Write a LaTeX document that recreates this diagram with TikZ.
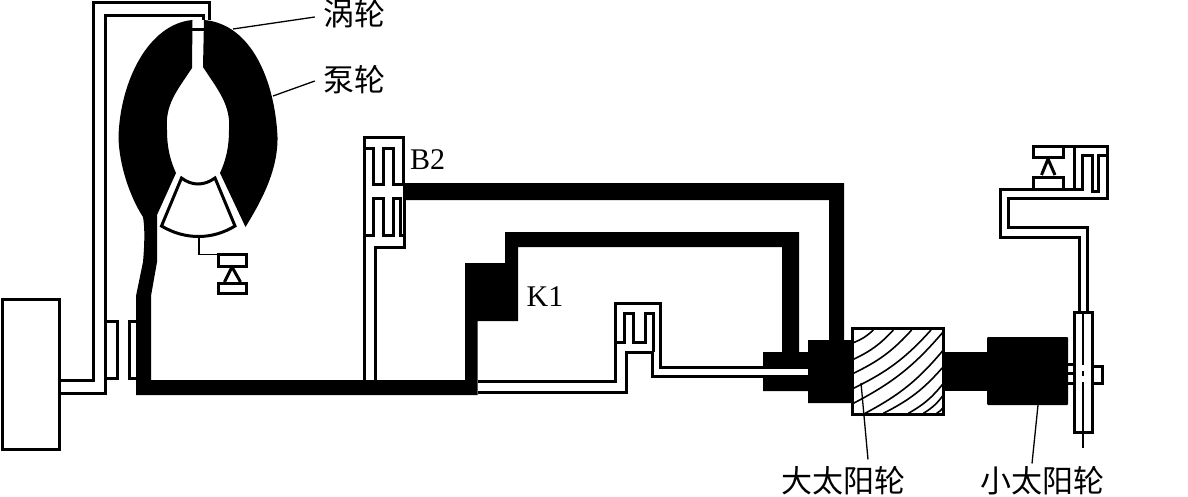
\documentclass[tikz,border=0pt]{standalone}
\usepackage{fontspec}
\setmainfont{Liberation Serif}
\newfontfamily\cjkfont{Noto Sans CJK SC}
\tikzset{
  pipe/.style={line width=3pt,line join=miter,draw=black},
  leader/.style={line width=1.3pt,draw=black},
  hatchline/.style={line width=1.6pt,draw=black},
  cnlabel/.style={inner sep=0pt,font=\cjkfont\fontsize{31}{31}\selectfont},
  latinlabel/.style={inner sep=0pt,font=\fontsize{30}{30}\selectfont},
}
\begin{document}
\begin{tikzpicture}[x=1pt,y=-1pt]
\useasboundingbox (0,0) rectangle (1188,496);
\fill[white] (0,0) rectangle (1188,496);
% torus halves and black shafts
\fill[black] (192.5,20) .. controls (148,24) and (120,82) .. (118.5,137)
  .. controls (119,165) and (130,197) .. (143,217)
  .. controls (145,228) and (144.5,245) .. (143,262)
  -- (136,296) -- (136,395) -- (477.5,395) -- (477.5,321) -- (518,321) -- (518,247)
  -- (782,247) -- (782,352) -- (763,352) -- (763,391) -- (808,391) -- (808,403) -- (852,403) -- (852,340)
  -- (844,340) -- (844,183) -- (403,183) -- (403,200) -- (829,200) -- (829,340) -- (808,340) -- (808,352)
  -- (799,352) -- (799,232) -- (505,232) -- (505,263) -- (465,263) -- (465,380) -- (151,380) -- (151,296)
  -- (157,262) -- (157,215) -- (176,173)
  .. controls (170,160) and (167,147) .. (167,130)
  .. controls (165,105) and (176,92) .. (192,68) -- cycle;
\fill[black] (204,20) .. controls (252,24) and (275,82) .. (277.5,137)
  .. controls (278,170) and (262,200) .. (245.5,227)
  -- (220,173) .. controls (226,160) and (229,147) .. (229,130)
  .. controls (231,105) and (218,90) .. (203,67) -- cycle;
% left pipes and box
\draw[pipe] (2,299) rectangle (59,449);
\draw[pipe] (60,380) -- (93.5,380) -- (93.5,2) -- (209,2) -- (209,20);
\draw[pipe] (60,393) -- (105.5,393) -- (105.5,15) -- (203,15) -- (203,20);
\draw[pipe] (192,29) -- (204,29);
\draw[pipe] (105.5,321.5) -- (117,321.5) -- (117,378) -- (105.5,378);
\draw[pipe] (137,321.5) -- (129.5,321.5) -- (129.5,378) -- (137,378);
% stator
\draw[pipe] (181.5,178) .. controls (192,186) and (204,186) .. (215,178) -- (235,226)
  .. controls (212,240) and (185,240) .. (161.5,226) -- cycle;
% brake 1
\draw[leader] (199,237) -- (199,254.5) -- (218,254.5);
\draw[pipe] (218.5,254.5) rectangle (246.5,266);
\draw[pipe] (218.5,283) rectangle (246.5,293.5);
\draw[pipe,line join=round] (224.5,282) -- (232,267) -- (240.5,282);
% B2 clutch
\draw[pipe] (364,380) -- (364,137.5) -- (403,137.5) -- (403,184);
\draw[pipe] (364,148.5) -- (373,148.5) -- (373,184) -- (383,184) -- (383,148.5) -- (393,148.5) -- (393,184) -- (403,184);
\draw[pipe] (364,235) -- (373,235) -- (373,198) -- (383,198) -- (383,235) -- (393,235) -- (393,198) -- (400,198) -- (400,235) -- (404.5,235);
\draw[pipe] (404.5,200) -- (404.5,247.5) -- (375,247.5) -- (375,380);
% mid clutch
\draw[pipe] (478,381) -- (615,381) -- (615,303.5) -- (660,303.5) -- (660,367) -- (765,367);
\draw[pipe] (478,392.5) -- (626,392.5) -- (626,352) -- (652,352) -- (652,376.5) -- (765,376.5);
\draw[pipe] (615,342) -- (624,342) -- (624,313) -- (633,313) -- (633,342) -- (645,342) -- (645,313) -- (653,313) -- (653,352);
% sleeve slot
\fill[white] (763,368.5) rectangle (808,375);
\draw[pipe] (763,367) -- (808,367);
\draw[pipe] (763,376.5) -- (808,376.5);
% hatched gear
\fill[white] (852.5,328.5) rectangle (943,414);
\begin{scope}
\clip (852.5,328.5) rectangle (943,414);
\foreach \a/\b/\c/\d in {25/68/85/30,25/118/145/30,25/160/200/30,25/205/258/30,25/250/295/35,60/280/295/90,115/280/295/140,190/280/295/190,235/280/295/225,275/280/295/262} {
  \draw[hatchline] ({845+\a/3},{320+\b/3}) to[bend right=11] ({845+\c/3},{320+\d/3});
}
\end{scope}
\draw[pipe] (852.5,328.5) rectangle (943,414);
% shaft and small sun
\fill[black] (944,352) rectangle (987,391);
\fill[black,rounded corners=1pt] (987,337) rectangle (1068,405);
\draw[pipe] (1068,364) -- (1074,364);
\draw[pipe] (1068,373.5) -- (1074,373.5);
\draw[pipe] (1068,383) -- (1074,383);
% plate
\draw[pipe,fill=white] (1074,312.5) rectangle (1092,432);
\draw[leader] (1083,312.5) -- (1083,365);
\draw[leader] (1083,371) -- (1083,376);
\draw[leader] (1083,382) -- (1083,448);
\draw[pipe] (1092,366) -- (1102,366) -- (1102,383) -- (1092,383);
% top right
\draw[pipe] (1079,312) -- (1079,237.5) -- (1000,237.5) -- (1000,189) -- (1082,189) -- (1082,155) -- (1092,155) -- (1092,191) -- (1098,191) -- (1098,155) -- (1107,155);
\draw[pipe] (1087.5,312) -- (1087.5,227) -- (1008,227) -- (1008,198) -- (1107,198) -- (1107,146) -- (1033.5,146) -- (1033.5,157) -- (1063,157) -- (1063,146);
\draw[pipe] (1074,146) -- (1074,189);
\draw[pipe] (1033.5,189) -- (1033.5,177.5) -- (1063,177.5) -- (1063,189);
\draw[pipe,line join=round] (1041.5,175) -- (1048,159) -- (1055,175);
% labels
\node[cnlabel] (wo) at (354,14) {涡轮};
\node[cnlabel] (beng) at (354,80) {泵轮};
\node[latinlabel] (b2) at (427.5,160) {B2};
\node[latinlabel] (k1) at (545,297) {K1};
\node[cnlabel] (das) at (843,481) {大太阳轮};
\node[cnlabel] (xiao) at (1042,481) {小太阳轮};
\coordinate (woEnd) at (233,29);
\coordinate (bengEnd) at (273,96);
\coordinate (dasEnd) at (861,383);
\coordinate (xiaoEnd) at (1038,405);
\draw[leader] (wo.west)++(-8,3) -- (woEnd);
\draw[leader] (beng.west)++(-8,1) -- (bengEnd);
\draw[leader] (das.north)++(25,-7) -- (dasEnd);
\draw[leader] (xiao.north)++(-10,-3) -- (xiaoEnd);
\end{tikzpicture}
\end{document}
